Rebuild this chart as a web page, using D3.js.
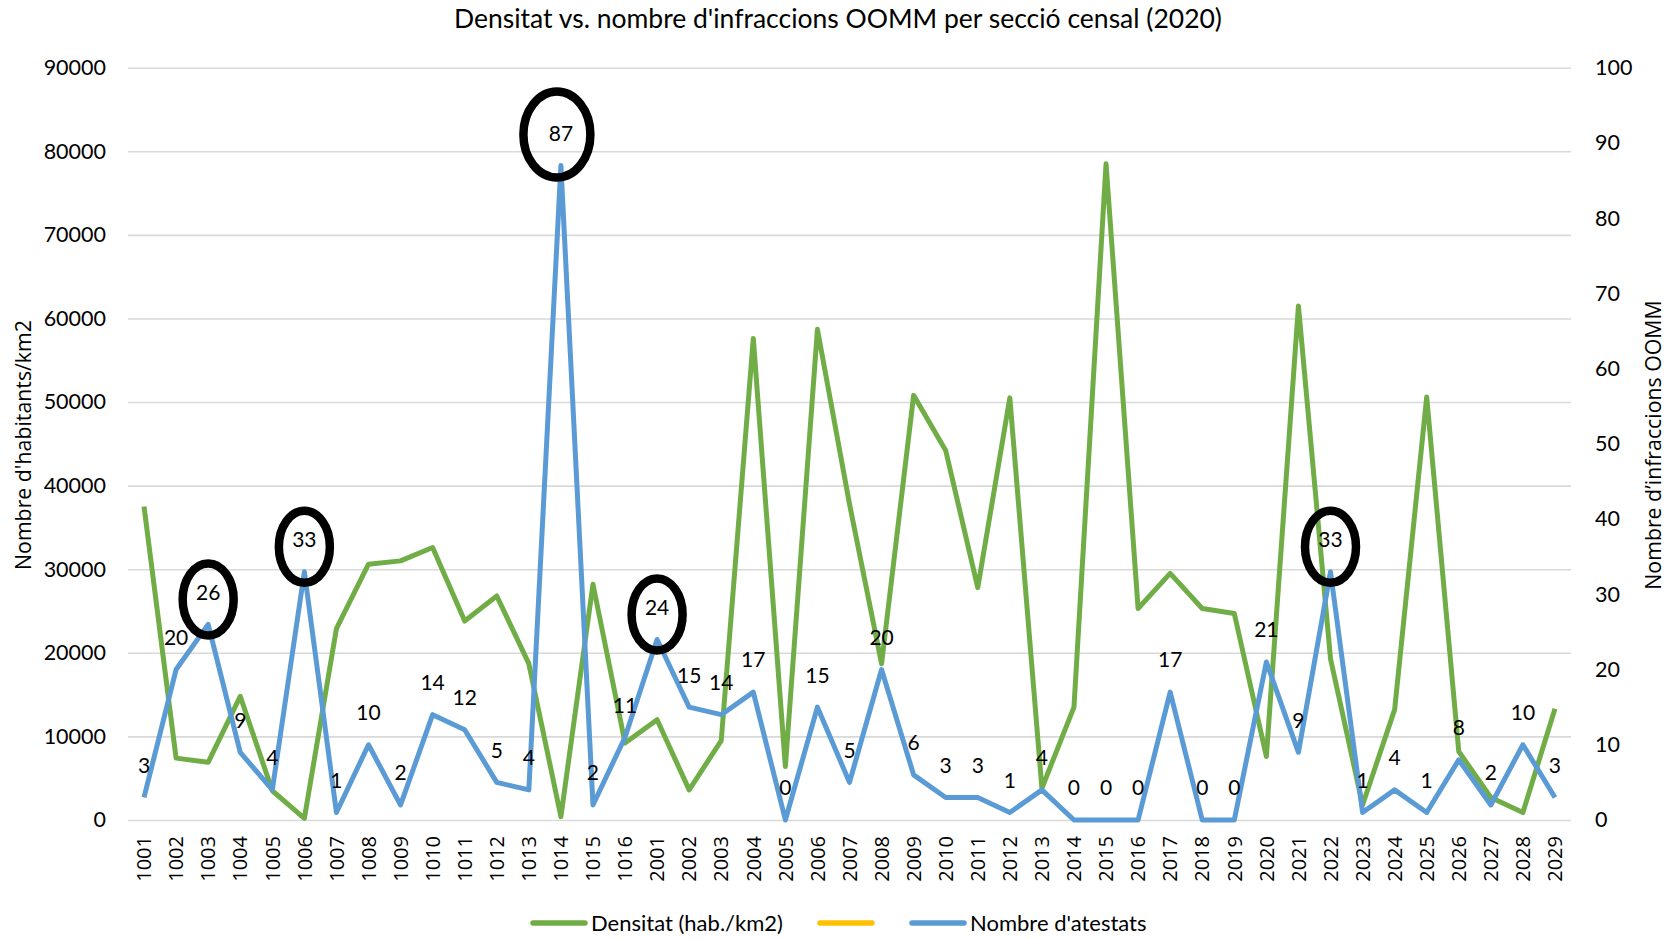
<!DOCTYPE html>
<html>
<head>
<meta charset="utf-8">
<script src="https://cdn.jsdelivr.net/npm/d3@7"></script>
<style>
  body { margin: 0; background: #fff; }
  svg { display: block; }
  .tick line { stroke: #d9d9d9; stroke-width: 1.6; }
  .domain { display: none; }
</style>
</head>
<body>
<svg id="chart" width="1672" height="939"></svg>
<script>
// seccions censals (districte + seccio)
var seccions = ["1001","1002","1003","1004","1005","1006","1007","1008","1009","1010",
  "1011","1012","1013","1014","1015","1016",
  "2001","2002","2003","2004","2005","2006","2007","2008","2009","2010",
  "2011","2012","2013","2014","2015","2016","2017","2018","2019","2020",
  "2021","2022","2023","2024","2025","2026","2027","2028","2029"];

// densitat, hab./km2 (eix esquerre)
var densitat = [37500, 7400, 6900, 14800, 3500, 200, 22900, 30600, 31000, 32600,
  23800, 26800, 18700, 400, 28200, 9200,
  12000, 3600, 9500, 57600, 6400, 58700, 37800, 18700, 50800, 44200,
  27800, 50500, 3800, 13500, 78500, 25300, 29500, 25300, 24700, 7600,
  61500, 19300, 1800, 13200, 50600, 8200, 2700, 900, 13300];

// nombre d'atestats (eix dret)
var atestats = [3, 20, 26, 9, 4, 33, 1, 10, 2, 14,
  12, 5, 4, 87, 2, 11,
  24, 15, 14, 17, 0, 15, 5, 20, 6, 3,
  3, 1, 4, 0, 0, 0, 17, 0, 0, 21,
  9, 33, 1, 4, 1, 8, 2, 10, 3];

// seccions marcades amb un cercle
var destacats = ["1003", "1006", "1014", "2001", "2022"];

var ticsDensitat = [0, 10000, 20000, 30000, 40000, 50000, 60000, 70000, 80000, 90000];
var ticsAtestats = [0, 10, 20, 30, 40, 50, 60, 70, 80, 90, 100];

var llegenda = ["Densitat (hab./km2)", "", "Nombre d'atestats"];
var colors = ["#70ad47", "#ffc000", "#5b9bd5"];

function dibuixa(){
  var svg = d3.select("#chart");
  // "top" es window.top, per aixo els noms amb prefix
  var pLeft = 128, pRight = 1571, pTop = 67.7, pBottom = 820;
  var numFont = "Lato, 'Open Sans', sans-serif";
  var rotFont = "'Open Sans', 'Noto Sans', sans-serif";

  var x = d3.scaleBand().domain(seccions).range([pLeft, pRight]);
  var yL = d3.scaleLinear().domain([0, 90000]).range([pBottom, pTop]);
  var yR = d3.scaleLinear().domain([0, 100]).range([pBottom, pTop]);
  function cx(d){ return x(d) + x.bandwidth() / 2 }

  svg.append("rect").attr("width", 1672).attr("height", 939).attr("fill", "#fff");

  // titol
  svg.append("text")
    .attr("x", 838).attr("y", 28)
    .attr("text-anchor", "middle")
    .style("font-family", numFont).style("font-size", "26.5px").attr("fill", "#000")
    .text("Densitat vs. nombre d'infraccions OOMM per secció censal (2020)");

  // eix esquerre + graella
  var gL = svg.append("g").attr("transform", "translate(" + pLeft + ",0)")
    .call(d3.axisLeft(yL).tickValues(ticsDensitat).tickSize(-(pRight - pLeft)).tickPadding(22).tickFormat(d3.format("d")));
  gL.selectAll("text").style("font-family", numFont).style("font-size", "21.5px").attr("fill", "#000");

  // eix dret (sense linies)
  var gR = svg.append("g").attr("transform", "translate(" + pRight + ",0)")
    .call(d3.axisRight(yR).tickValues(ticsAtestats).tickSize(0).tickPadding(24));
  gR.selectAll("text").style("font-family", numFont).style("font-size", "21.5px").attr("fill", "#000");

  // eix x, etiquetes girades
  var gX = svg.append("g").attr("transform", "translate(0," + pBottom + ")")
    .call(d3.axisBottom(x).tickSize(0).tickPadding(0));
  gX.selectAll("text")
    .attr("transform", "rotate(-90)")
    .attr("text-anchor", "end")
    .attr("x", -16).attr("y", 0).attr("dy", "0.36em")
    .style("font-family", rotFont).style("font-size", "20px").attr("fill", "#000");

  // titols dels eixos
  svg.append("text")
    .attr("transform", "translate(23.5,445) rotate(-90)")
    .attr("text-anchor", "middle").attr("dy", "0.35em")
    .style("font-family", rotFont).style("font-size", "21.3px")
    .text("Nombre d'habitants/km2");
  svg.append("text")
    .attr("transform", "translate(1654,445) rotate(-90)")
    .attr("text-anchor", "middle").attr("dy", "0.35em")
    .style("font-family", rotFont).style("font-size", "21.3px")
    .text("Nombre d’infraccions OOMM");

  // linies
  var lineL = d3.line().x(function(d, i){ return cx(seccions[i]) }).y(function(d){ return yL(d) });
  var lineR = d3.line().x(function(d, i){ return cx(seccions[i]) }).y(function(d){ return yR(d) });

  svg.append("path").datum(densitat)
    .attr("d", lineL).attr("fill", "none")
    .attr("stroke", colors[0]).attr("stroke-width", 5).attr("stroke-linejoin", "round");
  svg.append("path").datum(atestats)
    .attr("d", lineR).attr("fill", "none")
    .attr("stroke", colors[2]).attr("stroke-width", 5).attr("stroke-linejoin", "round");

  // etiquetes de dades
  svg.append("g").selectAll("text").data(atestats).join("text")
    .attr("x", function(d, i){ return cx(seccions[i]) })
    .attr("y", function(d){ return yR(d) - 32 })
    .attr("text-anchor", "middle").attr("dy", "0.35em")
    .style("font-family", numFont).style("font-size", "21px").attr("fill", "#000")
    .text(function(d){ return d });

  // cercles de remarca
  svg.append("g").selectAll("ellipse").data(destacats).join("ellipse")
    .attr("cx", function(d){ return cx(d) + (d == "1014" ? -4 : 0) })
    .attr("cy", function(d){ return yR(atestats[seccions.indexOf(d)]) - 32 + (d == "1014" ? 1 : 7) })
    .attr("rx", function(d){ return d == "1014" ? 33.5 : 25.5 })
    .attr("ry", function(d){ return d == "1014" ? 43 : 36 })
    .attr("fill", "none").attr("stroke", "#000").attr("stroke-width", 8.5);

  // llegenda
  var legX = [533, 820, 912];
  var gLeg = svg.append("g").attr("transform", "translate(0,923)");
  llegenda.forEach(function(t, i){
    gLeg.append("line")
      .attr("x1", legX[i]).attr("x2", legX[i] + 52).attr("y1", 0).attr("y2", 0)
      .attr("stroke", colors[i]).attr("stroke-width", 5.5).attr("stroke-linecap", "round");
    if(t){
      gLeg.append("text")
        .attr("x", legX[i] + 58).attr("y", 0).attr("dy", "0.35em")
        .style("font-family", numFont).style("font-size", "22px")
        .text(t);
    }
  });
}

dibuixa()
</script>
</body>
</html>
